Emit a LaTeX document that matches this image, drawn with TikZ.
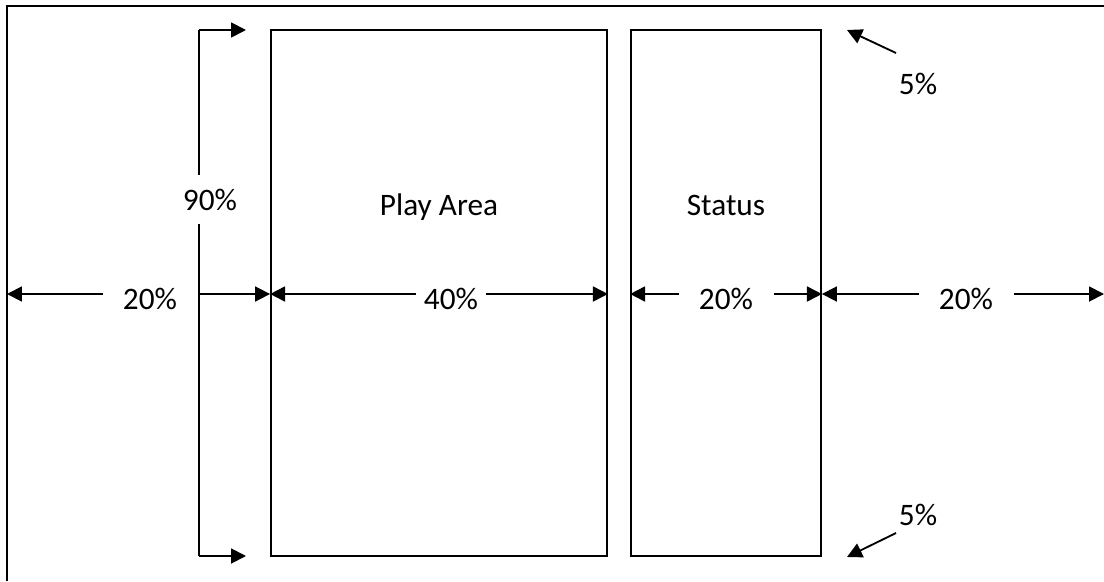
\documentclass[tikz,border=0pt]{standalone}
\usepackage{fontspec}
\setmainfont{Carlito}
\usetikzlibrary{arrows.meta}
\begin{document}
\begin{tikzpicture}[x=0.02cm,y=-0.02cm,
  box/.style={draw,line width=1.05pt},
  lbl/.style={anchor=base,inner sep=0pt,font=\fontsize{17.8}{21}\selectfont},
  arr/.style={line width=1.05pt,-{Triangle[length=0.3cm,width=0.3cm]}},
  frame/.style={line width=1.3pt}]
\useasboundingbox (0,0) rectangle (1104,581);
% outer frame (top and left edges)
\coordinate (fBL) at (7,581);
\coordinate (fTL) at (7,6);
\coordinate (fTR) at (1104,6);
\draw[frame] (fBL) -- (fTL) -- (fTR);
% boxes
\node[box,minimum width=336*0.02cm,minimum height=526*0.02cm,inner sep=0pt] (play) at (439,293) {};
\node[box,minimum width=190*0.02cm,minimum height=526*0.02cm,inner sep=0pt] (status) at (726,293) {};
\node[lbl] (playT) at (439,215) {Play Area};
\node[lbl] (statusT) at (726,215) {Status};
% 90% bracket
\coordinate (vt) at (199,30);
\coordinate (vb) at (199,556);
\coordinate (vtE) at (246,30);
\coordinate (vbE) at (246,556);
\draw[arr] (vt) -- (vtE);
\draw[arr] (vb) -- (vbE);
\draw[line width=1.05pt] (vt) -- (vb);
% horizontal dimension line coordinates
\coordinate (hL) at (7,294);
\coordinate (hA) at (103,294);
\coordinate (hB) at (199,294);
\coordinate (hP1) at (play.west |- hB);
\coordinate (hC) at (416,294);
\coordinate (hD) at (486,294);
\coordinate (hP2) at (play.east |- hB);
\coordinate (hS1) at (status.west |- hB);
\coordinate (hE) at (679,294);
\coordinate (hF) at (774,294);
\coordinate (hS2) at (status.east |- hB);
\coordinate (hG) at (919,294);
\coordinate (hH) at (1014,294);
\coordinate (hR) at (1104,294);
\draw[arr] (hA) -- (hL);
\draw[arr] (hB) -- (hP1);
\draw[arr] (hC) -- (hP1);
\draw[arr] (hD) -- (hP2);
\draw[arr] (hE) -- (hS1);
\draw[arr] (hF) -- (hS2);
\draw[arr] (hG) -- (hS2);
\draw[arr] (hH) -- (hR);
% labels
\node[lbl,fill=white,inner xsep=2pt,inner ysep=8pt] (p90) at (210,210) {90\%};
\node[lbl] (p20a) at (150,309) {20\%};
\node[lbl] (p40) at (451,309) {40\%};
\node[lbl] (p20b) at (726,309) {20\%};
\node[lbl] (p20c) at (966,309) {20\%};
% 5% pointers
\node[lbl] (t5) at (918,94) {5\%};
\node[lbl] (b5) at (918,525) {5\%};
\coordinate (t5s) at (896,53);
\coordinate (t5e) at (847,30);
\coordinate (b5s) at (896,533);
\coordinate (b5e) at (847,557);
\draw[arr] (t5s) -- (t5e);
\draw[arr] (b5s) -- (b5e);
\end{tikzpicture}
\end{document}
